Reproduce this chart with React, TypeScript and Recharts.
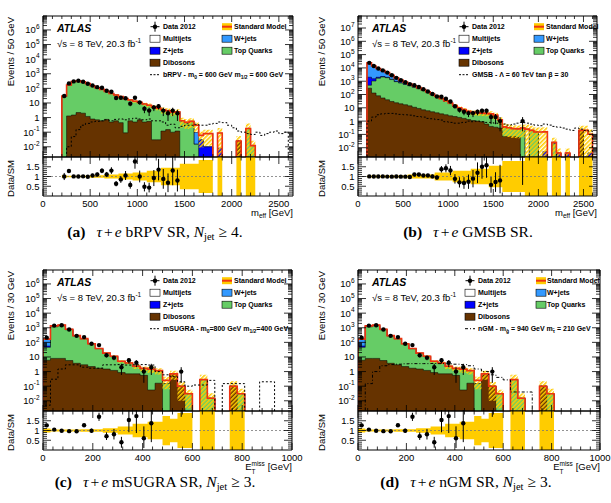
import React from 'react';
import { ComposedChart, Area, Line, Scatter, ErrorBar, XAxis, YAxis, ReferenceLine } from 'recharts';

const SANS = "'Liberation Sans', Arial, Helvetica, sans-serif";
const SERIF = "'Liberation Serif', 'Times New Roman', serif";

const FLOOR = 1e-6;
const Y_MIN = 2e-3;
const LW = 43;

const DIBOSON_C = '#663300';
const TOP_C = '#66cc66';
const ZJETS_C = '#0000ff';
const WJETS_C = '#3399ff';
const MULTIJET_C = '#ffffff';
const SM_C = '#ee3311';
const BAND_C = '#ffcc00';

// (a) tau+e bRPV SR, m_eff, 50 GeV bins from 200 GeV
const A_START = 200;
const A_WIDTH = 50;
const A_DIBOSON = [0, 1.3, 1.5, 2.2, 2.0, 1.2, 0.8, 0.7, 0.6, 0.75, 0.5, 0.6, 0.45, 0.09, 0.6, 0.5, 0.7, 0.5, 0.55, 0.03, 0.03, 0.12, 0.15, 0.1, 0.12, 0, 0, 0, 0, 0, 0, 0, 0, 0, 0, 0, 0, 0.025, 0, 0, 0, 0, 0, 0, 0, 0, 0, 0, 0];
const A_TOP = [27, 163, 290, 320, 273, 205, 146, 107, 83, 60, 43, 33.5, 26, 19.4, 15, 12.2, 10, 7.8, 6.2, 5.4, 4.4, 3.3, 2.8, 2.2, 2.4, 0.58, 0.4, 0.55, 0.015, 0, 0, 0, 0, 0, 0, 0, 0, 0, 0, 0.18, 0.012, 0, 0, 0, 0, 0, 0, 0, 0];
const A_ZJETS = [0, 1, 1, 1, 0, 0, 0, 0, 0, 0, 0, 0, 0, 0, 0, 0, 0, 0, 0, 0, 0, 0, 0, 0, 0, 0, 0, 0, 0, 0.03, 0.01, 0.01, 0, 0.008, 0, 0, 0, 0, 0, 0, 0, 0, 0, 0, 0, 0, 0, 0, 0];
const A_WJETS = [3, 5, 6, 6, 5, 4, 3, 2, 1.5, 1, 1, 0.8, 0.6, 0.5, 0.4, 0.3, 0.3, 0.2, 0.2, 0, 0, 0, 0, 0, 0, 0.02, 0.08, 0, 0.08, 0, 0, 0, 0, 0, 0, 0, 0, 0, 0, 0, 0, 0, 0, 0, 0, 0, 0, 0, 0];
const A_MULTIJET = [0, 0, 0, 0, 0, 0, 0, 0, 0, 0, 0, 0, 0, 0, 0, 0, 0, 0, 0, 0, 0, 0, 0, 0, 0, 0, 0, 0, 0.2, 0.03, 0.07, 0.07, 0, 0.08, 0, 0, 0, 0, 0, 0, 0, 0, 0, 0, 0, 0, 0, 0, 0];
const A_DATA = [30, 218, 300, 330, 282, 208, 158, 121, 110, 68, 58, 22, 23, 21, 9, 23, 11, 4, 3, 5, 6, 3, 2, 3, 2, 0, 0, 0, 0, 0, 0, 0, 0, 0, 0, 0, 0, 0, 0, 0, 0, 0, 0, 0, 0, 0, 0, 0, 0];
const A_SIGNAL = [0, 0.01, 0.05, 0.15, 0.3, 0.4, 0.5, 0.55, 0.6, 0.7, 0.6, 0.75, 0.8, 0.7, 0.8, 0.9, 0.8, 0.7, 0.8, 0.6, 0.6, 0.5, 0.3, 0.35, 0.2, 0.25, 0.3, 0.3, 0.35, 0.3, 0.3, 0.35, 0.4, 0.5, 0.45, 0.3, 0.2, 0.12, 0.1, 0.08, 0.07, 0.1, 0.06, 0.08, 0.1, 0.12, 0.08, 0.1, 0];
const A_SYST = [0.08, 0.04, 0.04, 0.04, 0.04, 0.04, 0.06, 0.06, 0.06, 0.1, 0.1, 0.1, 0.15, 0.15, 0.15, 0.2, 0.2, 0.2, 0.3, 0.3, 0.3, 0.45, 0.45, 0.45, 0.45, 0.65, 0.65, 0.65, 0.65, 0.85, 0.85, 0.85, 0.85, 1.2, 1.2, 1.2, 1.2, 1.2, 1.2, 1.2, 1.2, 1.2, 1.2, 1.2, 1.2, 1.2, 1.2, 1.2, 1.2];

// (b) tau+e GMSB SR, m_eff, 50 GeV bins from 100 GeV
const B_START = 100;
const B_WIDTH = 50;
const B_DIBOSON = [300, 130, 80, 55, 40, 30, 24, 20, 17, 14, 11, 9, 7, 6, 5, 4.2, 3.5, 3, 2.5, 2.2, 1.9, 1.6, 1.3, 1.1, 1.0, 0.9, 0.6, 0.4, 0.35, 0.3, 0.07, 0.07, 0.07, 0.06, 0, 0, 0, 0, 0, 0, 0, 0, 0, 0, 0, 0, 0, 0.2, 0, 0, 0];
const B_TOP = [200, 900, 1600, 2000, 1800, 1300, 900, 700, 560, 440, 340, 260, 190, 130, 90, 61, 40, 27, 18, 11, 7, 5.2, 3.6, 3.0, 2.8, 2.7, 2.8, 2.85, 2.2, 0.7, 0.25, 0.25, 0.2, 0.2, 0.3, 0, 0.2, 0.15, 0, 0, 0, 0.02, 0, 0, 0, 0, 0, 0, 0, 0, 0];
const B_ZJETS = [1500, 500, 300, 200, 130, 90, 60, 40, 25, 18, 12, 8, 5, 3.5, 2.5, 1.7, 1.1, 0.8, 0.5, 0.4, 0.3, 0.2, 0.15, 0.1, 0.1, 0.1, 0.1, 0.05, 0.05, 0.05, 0, 0, 0, 0, 0, 0, 0, 0, 0, 0.005, 0, 0.005, 0.004, 0, 0.004, 0, 0, 0, 0, 0.004, 0];
const B_WJETS = [22000, 12500, 7000, 4200, 2500, 1400, 800, 450, 250, 150, 90, 55, 35, 20, 12, 8, 5, 3, 2, 1.2, 0.8, 0.5, 0.4, 0.3, 0.3, 0.3, 0.3, 0.2, 0.2, 0.2, 0.05, 0, 0, 0, 0, 0, 0, 0, 0, 0, 0, 0, 0, 0, 0, 0, 0, 0, 0, 0, 0];
const B_MULTIJET = [0, 0, 0, 0, 0, 0, 0, 0, 0, 0, 0, 0, 0, 0, 0, 0, 0, 0, 0, 0, 0, 0, 0, 0, 0, 0, 0, 0, 0, 0, 0, 0, 0, 0, 0, 0.25, 0, 0, 0.15, 0.15, 0, 0, 0, 0, 0, 0, 0, 0, 0.2, 0.1, 0];
const B_DATA = [24100, 14000, 8950, 6480, 4450, 2800, 1790, 1200, 845, 605, 498, 365, 249, 168, 110, 71, 68, 48, 30, 13, 7, 5, 4, 4, 5, 6, 6, 2, 2, 1, 0, 0, 0, 0, 1, 0, 0, 0, 0, 0, 0, 0, 0, 0, 0, 0, 0, 0, 0, 0, 0];
const B_SIGNAL = [1.0, 2.0, 3.0, 3.5, 3.8, 3.8, 3.5, 3.2, 3.0, 2.8, 2.5, 2.2, 2.0, 1.6, 1.5, 1.3, 1.2, 0.9, 0.8, 0.7, 0.7, 0.8, 1.0, 0.9, 1.0, 0.9, 0.8, 0.8, 0.7, 0.6, 0.6, 0.5, 0.6, 0.7, 0.8, 0.7, 0.6, 0.5, 0.45, 0.6, 0.5, 0.4, 0.35, 0.3, 0.25, 0.2, 0.3, 0.25, 0.2, 0.18, 0];
const B_SYST = [0.05, 0.05, 0.05, 0.05, 0.05, 0.05, 0.05, 0.05, 0.05, 0.1, 0.1, 0.1, 0.1, 0.1, 0.1, 0.2, 0.2, 0.2, 0.2, 0.3, 0.3, 0.3, 0.3, 0.4, 0.4, 0.4, 0.4, 0.55, 0.55, 0.55, 0.8, 0.8, 0.8, 0.8, 0.8, 1.2, 1.2, 1.2, 1.2, 1.2, 1.2, 1.2, 1.2, 1.2, 1.2, 1.2, 1.2, 1.2, 1.2, 1.2, 1.2];

// (c)/(d) tau+e SR with Njet >= 3, E_T^miss, 30 GeV bins from 0
const C_START = 0;
const C_WIDTH = 30;
const C_DIBOSON = [6, 8, 8, 5.7, 3.7, 2.9, 2.2, 1.7, 1.5, 1.2, 0.85, 0.7, 0.7, 0.55, 0.055, 0.16, 0, 0.6, 0.1, 0, 0, 0, 0, 0, 0, 0.1, 0, 0, 0, 0, 0, 0, 0, 0];
const C_TOP = [40, 1150, 1350, 720, 270, 170, 75, 35, 16, 9.5, 4.0, 3.0, 1.6, 1.0, 1.4, 1.0, 0.15, 0.1, 0, 0.03, 0, 0.28, 0.015, 0, 0, 0, 0.03, 0, 0, 0, 0, 0, 0, 0];
const C_ZJETS = [10, 60, 50, 20, 5, 2, 1, 0, 0, 0, 0, 0, 0, 0, 0, 0, 0, 0, 0, 0, 0, 0, 0, 0, 0, 0, 0, 0, 0, 0, 0, 0, 0, 0];
const C_WJETS = [110, 120, 110, 40, 12, 6, 3, 1.5, 0.8, 0.4, 0.2, 0.2, 0, 0.1, 0, 0, 0, 0, 0, 0, 0, 0, 0, 0, 0, 0, 0, 0, 0, 0, 0, 0, 0, 0];
const C_MULTIJET = [0, 0, 0, 0, 0, 0, 0, 0, 0, 0, 0, 0, 0, 0, 0, 0, 0.1, 0, 0, 0, 0, 0, 0, 0, 0, 0, 0, 0, 0, 0, 0, 0, 0, 0];
const C_DATA = [210, 1400, 1500, 760, 280, 230, 80, 65, 13, 9, 2, 6, 4, 1, 2, 0, 0, 0, 1, 0, 0, 0, 0, 0, 0, 0, 0, 0, 0, 0, 0, 0, 0, 0];
const C_SYST = [0.1, 0.05, 0.05, 0.05, 0.05, 0.07, 0.07, 0.07, 0.12, 0.12, 0.2, 0.2, 0.35, 0.35, 0.45, 0.45, 0.75, 0.6, 0.9, 0.9, 1.2, 1.2, 1.2, 1.2, 1.2, 1.2, 1.2, 1.2, 1.2, 1.2, 1.2, 1.2, 1.2, 1.2];
const C_SIGNAL = [0.005, 0.3, 1.5, 2.9, 2.9, 2.0, 1.7, 1.7, 2.9, 2.9, 3.0, 2.8, 2.9, 3.0, 2.8, 1.0, 0.6, 0.45, 0.2, 0.1, 0.12, 0.12, 0.25, 0, 0.15, 0.15, 0.15, 0, 0, 0.2, 0.2, 0, 0, 0];
const D_SIGNAL = [0, 0.15, 1.0, 2.5, 3.0, 3.2, 3.4, 3.5, 3.5, 3.5, 3.6, 3.5, 3.4, 3.2, 3.0, 2.5, 1.5, 1.0, 0.6, 0.4, 0.27, 0.04, 0.04, 0.04, 0, 0, 0, 0, 0, 0, 0, 0, 0, 0];

type Sample = {
  start: number;
  width: number;
  diboson: number[];
  top: number[];
  zjets: number[];
  wjets: number[];
  multijet: number[];
  data: number[];
  signal: number[];
  syst: number[];
};

const SAMPLE_A: Sample = { start: A_START, width: A_WIDTH, diboson: A_DIBOSON, top: A_TOP, zjets: A_ZJETS, wjets: A_WJETS, multijet: A_MULTIJET, data: A_DATA, signal: A_SIGNAL, syst: A_SYST };
const SAMPLE_B: Sample = { start: B_START, width: B_WIDTH, diboson: B_DIBOSON, top: B_TOP, zjets: B_ZJETS, wjets: B_WJETS, multijet: B_MULTIJET, data: B_DATA, signal: B_SIGNAL, syst: B_SYST };
const SAMPLE_C: Sample = { start: C_START, width: C_WIDTH, diboson: C_DIBOSON, top: C_TOP, zjets: C_ZJETS, wjets: C_WJETS, multijet: C_MULTIJET, data: C_DATA, signal: C_SIGNAL, syst: C_SYST };
const SAMPLE_D: Sample = { ...SAMPLE_C, signal: D_SIGNAL };

const pos = (v: number) => (v > 0 ? v : FLOOR);
const binTotal = (s: Sample, i: number) => s.diboson[i] + s.top[i] + s.zjets[i] + s.wjets[i] + s.multijet[i];

// cumulative stack, one row per bin edge, closed at both ends so the outline drops to the floor
function stackRows(s: Sample) {
  const n = s.diboson.length;
  const end = s.start + n * s.width;
  const empty = { dib: FLOOR, top: FLOOR, zj: FLOOR, wj: FLOOR, mj: FLOOR, total: FLOOR, sig: FLOOR, band: [FLOOR, FLOOR] };
  const rows: any[] = [{ x: s.start, ...empty }];
  for (let i = 0; i <= n; i++) {
    const j = Math.min(i, n - 1);
    const c1 = s.diboson[j];
    const c2 = c1 + s.top[j];
    const c3 = c2 + s.zjets[j];
    const c4 = c3 + s.wjets[j];
    const c5 = c4 + s.multijet[j];
    const d = s.syst[j];
    rows.push({
      x: s.start + i * s.width,
      dib: pos(c1),
      top: pos(c2),
      zj: pos(c3),
      wj: pos(c4),
      mj: pos(c5),
      total: pos(c5),
      sig: pos(s.signal[j]),
      band: c5 > 0 ? [pos(c5 * (1 - d)), c5 * (1 + d)] : [FLOOR, FLOOR],
    });
  }
  rows.push({ x: end, ...empty });
  return rows;
}

function dataPoints(s: Sample, ratio: boolean) {
  const out: any[] = [];
  s.data.forEach((n, i) => {
    const t = binTotal(s, i);
    if (n <= 0 || (ratio && t <= 0)) return;
    const up = Math.sqrt(n);
    const down = Math.min(Math.sqrt(n), 0.83 * n);
    const k = ratio ? t : 1;
    out.push({ x: s.start + (i + 0.5) * s.width, y: n / k, err: [down / k, up / k] });
  });
  return out;
}

function ratioRows(s: Sample) {
  const n = s.diboson.length;
  const rows: any[] = [];
  for (let i = 0; i <= n; i++) {
    const j = Math.min(i, n - 1);
    const d = s.syst[j];
    rows.push({ x: s.start + i * s.width, rb: binTotal(s, j) > 0 ? [1 - d, 1 + d] : [1, 1], one: 1 });
  }
  return rows;
}

function logTicks(min: number, max: number) {
  const out: number[] = [];
  for (let e = Math.floor(Math.log10(min)); e <= Math.ceil(Math.log10(max)); e++) {
    for (let m = 1; m < 10; m++) {
      const v = Number((m * Math.pow(10, e)).toPrecision(3));
      if (v >= min * 0.999 && v <= max * 1.001) out.push(v);
    }
  }
  return out;
}

function linTicks(from: number, to: number, step: number) {
  const out: number[] = [];
  for (let v = from; v <= to + 1e-9; v += step) out.push(Math.round(v * 1000) / 1000);
  return out;
}

const RATIO_TICKS = linTicks(0.1, 1.9, 0.1);

function powLabel(x: number, y: number, e: number) {
  const common = { x, y, textAnchor: 'end' as const, fontSize: 9.5, fontFamily: SANS, fill: '#000' };
  if (e === 0) return <text {...common}>1</text>;
  if (e === 1) return <text {...common}>10</text>;
  return (
    <text {...common}>
      10<tspan dy={-4.2} fontSize={6.5}>{e}</tspan>
    </text>
  );
}

const logTick = (side: 'left' | 'right') => (props: any) => {
  const { x, y, payload } = props;
  const e = Math.log10(payload.value);
  const major = Math.abs(e - Math.round(e)) < 1e-6;
  const len = major ? 8 : 4;
  const dir = side === 'left' ? 1 : -1;
  return (
    <g>
      <line x1={x} x2={x + dir * len} y1={y} y2={y} stroke="#000" strokeWidth={0.8} />
      {side === 'left' && major && powLabel(x - 3.5, y + 3.4, Math.round(e))}
    </g>
  );
};

const ratioTick = (side: 'left' | 'right') => (props: any) => {
  const { x, y, payload } = props;
  const v = payload.value;
  const major = Math.abs(v * 2 - Math.round(v * 2)) < 1e-6;
  const dir = side === 'left' ? 1 : -1;
  return (
    <g>
      <line x1={x} x2={x + dir * (major ? 8 : 4)} y1={y} y2={y} stroke="#000" strokeWidth={0.8} />
      {side === 'left' && major && (
        <text x={x - 3.5} y={y + 3.4} textAnchor="end" fontSize={9.5} fontFamily={SANS} fill="#000">
          {v}
        </text>
      )}
    </g>
  );
};

const xTick = (major: number, labels: boolean, side: 'bottom' | 'top', len: number) => (props: any) => {
  const { x, y, payload } = props;
  const v = payload.value;
  const isMajor = Math.abs(v / major - Math.round(v / major)) < 1e-6;
  const dir = side === 'bottom' ? -1 : 1;
  return (
    <g>
      <line x1={x} x2={x} y1={y} y2={y + dir * (isMajor ? len : len / 2)} stroke="#000" strokeWidth={0.8} />
      {labels && isMajor && (
        <text x={x} y={y + 10.5} textAnchor="middle" fontSize={9.5} fontFamily={SANS} fill="#000">
          {v}
        </text>
      )}
    </g>
  );
};

const dot = (props: any) => <circle cx={props.cx} cy={props.cy} r={2.2} fill="#000" />;

type PanelCfg = {
  id: string;
  sample: Sample;
  left: number;
  right: number;
  top: number;
  mainBottom: number;
  ratioBottom: number;
  xMax: number;
  xMajor: number;
  xMinor: number;
  yMax: number;
};

function Panel({ p }: { p: PanelCfg }) {
  const s = p.sample;
  const plotW = p.right - p.left;
  const mainH = p.mainBottom - p.top;
  const ratioH = p.ratioBottom - p.mainBottom;
  const rows = stackRows(s);
  const pts = dataPoints(s, false);
  const rrows = ratioRows(s);
  const rpts = dataPoints(s, true);
  const yTicks = logTicks(Y_MIN, p.yMax);
  const xTicks = linTicks(0, p.xMax, p.xMinor);
  const hatch = `hatch-${p.id}`;
  const flat = { isAnimationActive: false, dot: false as const, activeDot: false as const };
  const frame = { stroke: '#000', strokeWidth: 1 };

  return (
    <>
      <div style={{ position: 'absolute', left: p.left - LW, top: p.top - 1 }}>
        <ComposedChart width={LW + plotW + 1} height={mainH + 2} data={rows} margin={{ top: 0, right: 0, bottom: 0, left: 0 }}>
          <defs>
            <pattern id={hatch} width={3} height={3} patternUnits="userSpaceOnUse" patternTransform="rotate(45)">
              <rect x={0} y={0} width={1.6} height={3} fill={BAND_C} />
            </pattern>
          </defs>
          <XAxis dataKey="x" type="number" domain={[0, p.xMax]} allowDataOverflow ticks={xTicks} interval={0} tickSize={0} tickMargin={0} height={1} tickLine={false} axisLine={frame} tick={xTick(p.xMajor, false, 'bottom', 6)} />
          <XAxis xAxisId="t" orientation="top" dataKey="x" type="number" domain={[0, p.xMax]} allowDataOverflow ticks={xTicks} interval={0} tickSize={0} tickMargin={0} height={1} tickLine={false} axisLine={frame} tick={xTick(p.xMajor, false, 'top', 6)} />
          <YAxis type="number" scale="log" domain={[Y_MIN, p.yMax]} allowDataOverflow ticks={yTicks} interval={0} tickSize={0} tickMargin={0} width={LW} tickLine={false} axisLine={frame} tick={logTick('left')} />
          <YAxis yAxisId="r" orientation="right" type="number" scale="log" domain={[Y_MIN, p.yMax]} allowDataOverflow ticks={yTicks} interval={0} tickSize={0} tickMargin={0} width={1} tickLine={false} axisLine={frame} tick={logTick('right')} />
          <Area type="stepAfter" dataKey="mj" baseValue={FLOOR} fill={MULTIJET_C} fillOpacity={1} stroke="#000" strokeWidth={0.5} {...flat} />
          <Area type="stepAfter" dataKey="wj" baseValue={FLOOR} fill={WJETS_C} fillOpacity={1} stroke="#000" strokeWidth={0.5} {...flat} />
          <Area type="stepAfter" dataKey="zj" baseValue={FLOOR} fill={ZJETS_C} fillOpacity={1} stroke="#000" strokeWidth={0.5} {...flat} />
          <Area type="stepAfter" dataKey="top" baseValue={FLOOR} fill={TOP_C} fillOpacity={1} stroke="#000" strokeWidth={0.5} {...flat} />
          <Area type="stepAfter" dataKey="dib" baseValue={FLOOR} fill={DIBOSON_C} fillOpacity={1} stroke="#000" strokeWidth={0.5} {...flat} />
          <Area type="stepAfter" dataKey="band" fill={`url(#${hatch})`} fillOpacity={1} stroke="none" {...flat} />
          <Line type="stepAfter" dataKey="total" stroke={SM_C} strokeWidth={1.6} {...flat} />
          <Line type="stepAfter" dataKey="sig" stroke="#000" strokeWidth={1} strokeDasharray={p.id === 'd' ? '3 2 1 2' : '2 2'} {...flat} />
          <Line xAxisId="t" yAxisId="r" dataKey="total" stroke="none" {...flat} />
          <Scatter data={pts} dataKey="y" shape={dot} isAnimationActive={false}>
            <ErrorBar dataKey="err" direction="y" width={0} stroke="#000" strokeWidth={1} />
          </Scatter>
        </ComposedChart>
      </div>
      <div style={{ position: 'absolute', left: p.left - LW, top: p.mainBottom - 1 }}>
        <ComposedChart width={LW + plotW + 1 + 14} height={ratioH + 15} data={rrows} margin={{ top: 0, right: 14, bottom: 0, left: 0 }}>
          <XAxis dataKey="x" type="number" domain={[0, p.xMax]} allowDataOverflow ticks={xTicks} interval={0} tickSize={0} tickMargin={0} height={14} tickLine={false} axisLine={frame} tick={xTick(p.xMajor, true, 'bottom', 7)} />
          <XAxis xAxisId="t" orientation="top" dataKey="x" type="number" domain={[0, p.xMax]} allowDataOverflow ticks={xTicks} interval={0} tickSize={0} tickMargin={0} height={1} tickLine={false} axisLine={frame} tick={xTick(p.xMajor, false, 'top', 7)} />
          <YAxis type="number" domain={[0, 2]} allowDataOverflow ticks={RATIO_TICKS} interval={0} tickSize={0} tickMargin={0} width={LW} tickLine={false} axisLine={frame} tick={ratioTick('left')} />
          <YAxis yAxisId="r" orientation="right" type="number" domain={[0, 2]} allowDataOverflow ticks={RATIO_TICKS} interval={0} tickSize={0} tickMargin={0} width={1} tickLine={false} axisLine={frame} tick={ratioTick('right')} />
          <Area type="stepAfter" dataKey="rb" fill={BAND_C} fillOpacity={1} stroke="none" {...flat} />
          <ReferenceLine y={1} stroke="#777" strokeWidth={0.8} strokeDasharray="2 2" />
          <Line xAxisId="t" yAxisId="r" dataKey="one" stroke="none" {...flat} />
          <Scatter data={rpts} dataKey="y" shape={dot} isAnimationActive={false}>
            <ErrorBar dataKey="err" direction="y" width={0} stroke="#000" strokeWidth={1} />
          </Scatter>
        </ComposedChart>
      </div>
    </>
  );
}

type Notes = {
  p: PanelCfg;
  legendX: number[];
  binLabel: string;
  titleOffset: number;
  xTitle: React.ReactNode;
  signalText: React.ReactNode;
  caption: React.ReactNode;
  captionX: number;
  captionY: number;
};

function Annotations({ n }: { n: Notes }) {
  const { p } = n;
  const L = p.left;
  const T = p.top;
  const mx = L + n.legendX[0];
  const tx = L + n.legendX[1];
  const bx = L + n.legendX[2];
  const t2 = L + n.legendX[3];
  const ry = (k: number) => T + 10.7 + 12 * k;
  const label = (x: number, k: number, s: React.ReactNode) => (
    <text x={x} y={ry(k) + 2.5} fontSize={7} fontWeight="bold">
      {s}
    </text>
  );
  const box = (x: number, k: number, fill: string) => (
    <rect x={x} y={ry(k) - 3.5} width={10} height={7} fill={fill} stroke="#000" strokeWidth={0.6} />
  );
  const titleX = L - n.titleOffset;
  return (
    <g fontFamily={SANS} fill="#000">
      <text x={L + 14} y={T + 15.8} fontSize={10.5} fontWeight="bold" fontStyle="italic">
        ATLAS
      </text>
      <text x={L + 14} y={T + 30.8} fontSize={9.5}>
        √s = 8 TeV, 20.3 fb<tspan dy={-4} fontSize={6.5}>-1</tspan>
      </text>

      <line x1={mx - 4.5} x2={mx + 4.5} y1={ry(0)} y2={ry(0)} stroke="#000" strokeWidth={1} />
      <line x1={mx} x2={mx} y1={ry(0) - 5} y2={ry(0) + 5} stroke="#000" strokeWidth={1} />
      <circle cx={mx} cy={ry(0)} r={2.2} fill="#000" />
      {label(tx, 0, 'Data 2012')}
      {box(mx - 5, 1, MULTIJET_C)}
      {label(tx, 1, 'Multijets')}
      {box(mx - 5, 2, ZJETS_C)}
      {label(tx, 2, 'Z+jets')}
      {box(mx - 5, 3, DIBOSON_C)}
      {label(tx, 3, 'Dibosons')}
      <line x1={mx - 5} x2={mx + 5} y1={ry(4)} y2={ry(4)} stroke="#000" strokeWidth={1} strokeDasharray={p.id === 'd' ? '3 2 1 2' : '2 1.5'} />
      {label(tx, 4, n.signalText)}

      <rect x={bx} y={ry(0) - 3.5} width={10} height={7} fill={BAND_C} />
      <line x1={bx} x2={bx + 10} y1={ry(0)} y2={ry(0)} stroke={SM_C} strokeWidth={2} />
      {label(t2, 0, 'Standard Model')}
      {box(bx, 1, WJETS_C)}
      {label(t2, 1, 'W+jets')}
      {box(bx, 2, TOP_C)}
      {label(t2, 2, 'Top Quarks')}

      <text transform={`translate(${titleX},${T + 1}) rotate(-90)`} textAnchor="end" fontSize={9.5}>
        {n.binLabel}
      </text>
      <text transform={`translate(${titleX},${(p.mainBottom + p.ratioBottom) / 2 + 2}) rotate(-90)`} textAnchor="middle" fontSize={9.5}>
        Data/SM
      </text>
      <text x={p.right} y={p.ratioBottom + 20} textAnchor="end" fontSize={9.5}>
        {n.xTitle}
      </text>
      <text x={n.captionX} y={n.captionY} textAnchor="middle" fontFamily={SERIF} fontSize={15.5}>
        {n.caption}
      </text>
    </g>
  );
}

const sub = (s: string) => [
  <tspan key="s" dy={1.8} fontSize={5}>
    {s}
  </tspan>,
];

const MEFF = (
  <>
    m<tspan dy={2.2} fontSize={6.5}>eff</tspan>
    <tspan dy={-2.2}> [GeV]</tspan>
  </>
);
const MET = (
  <>
    E<tspan dy={-4} fontSize={6.5}>miss</tspan>
    <tspan dx={-13.4} dy={7.5} fontSize={6.5}>T</tspan>
    <tspan dx={9.6} dy={-3.5}> [GeV]</tspan>
  </>
);

const caption = (tag: string, model: string, njet: string | null) => (
  <>
    <tspan fontWeight="bold">{tag}</tspan>
    <tspan dx={11} fontStyle="italic">τ</tspan>
    <tspan dx={2}>+</tspan>
    <tspan dx={2} fontStyle="italic">e</tspan>
    <tspan>{` ${model} SR${njet ? ',' : '.'} `}</tspan>
    {njet && (
      <>
        <tspan fontStyle="italic">N</tspan>
        <tspan dy={3} fontSize={10.5}>jet</tspan>
        <tspan dy={-3} dx={4}>≥</tspan>
        <tspan dx={4}>{`${njet}.`}</tspan>
      </>
    )}
  </>
);

const PANEL_A: PanelCfg = { id: 'a', sample: SAMPLE_A, left: 43, right: 293, top: 16, mainBottom: 157, ratioBottom: 196, xMax: 2650, xMajor: 500, xMinor: 100, yMax: 9e6 };
const PANEL_B: PanelCfg = { id: 'b', sample: SAMPLE_B, left: 358, right: 597, top: 16, mainBottom: 157, ratioBottom: 196, xMax: 2650, xMajor: 500, xMinor: 100, yMax: 8e7 };
const PANEL_C: PanelCfg = { id: 'c', sample: SAMPLE_C, left: 43, right: 292, top: 270, mainBottom: 411, ratioBottom: 450, xMax: 1000, xMajor: 200, xMinor: 40, yMax: 9e6 };
const PANEL_D: PanelCfg = { id: 'd', sample: SAMPLE_D, left: 358, right: 600, top: 270, mainBottom: 411, ratioBottom: 450, xMax: 1000, xMajor: 200, xMinor: 40, yMax: 9e6 };

const NOTES: Notes[] = [
  {
    p: PANEL_A,
    legendX: [112, 120, 179, 191],
    binLabel: 'Events / 50 GeV',
    titleOffset: 29.5,
    xTitle: MEFF,
    signalText: (
      <>
        bRPV - m{sub('0')}
        <tspan dy={-1.8}> = 600 GeV m</tspan>
        {sub('1/2')}
        <tspan dy={-1.8}> = 600 GeV</tspan>
      </>
    ),
    caption: caption('(a)', 'bRPV', '4'),
    captionX: 155,
    captionY: 237,
  },
  {
    p: PANEL_B,
    legendX: [106, 114, 176, 188],
    binLabel: 'Events / 50 GeV',
    titleOffset: 33.5,
    xTitle: MEFF,
    signalText: 'GMSB - Λ = 60 TeV tan β = 30',
    caption: caption('(b)', 'GMSB', null),
    captionX: 468,
    captionY: 237,
  },
  {
    p: PANEL_C,
    legendX: [112, 120, 179, 191],
    binLabel: 'Events / 30 GeV',
    titleOffset: 29.5,
    xTitle: MET,
    signalText: (
      <>
        mSUGRA - m{sub('0')}
        <tspan dy={-1.8}>=800 GeV m</tspan>
        {sub('1/2')}
        <tspan dy={-1.8}>=400 GeV</tspan>
      </>
    ),
    caption: caption('(c)', 'mSUGRA', '3'),
    captionX: 155,
    captionY: 487,
  },
  {
    p: PANEL_D,
    legendX: [112, 120, 178, 189],
    binLabel: 'Events / 30 GeV',
    titleOffset: 33.5,
    xTitle: MET,
    signalText: (
      <>
        nGM - m{sub('g̃')}
        <tspan dy={-1.8}> = 940 GeV m</tspan>
        {sub('τ̃')}
        <tspan dy={-1.8}> = 210 GeV</tspan>
      </>
    ),
    caption: caption('(d)', 'nGM', '3'),
    captionX: 466,
    captionY: 487,
  },
];

export default function App() {
  return (
    <div style={{ position: 'absolute', left: 0, top: 0, width: 611, height: 503, overflow: 'hidden', background: '#fff' }}>
      {NOTES.map((n) => (
        <Panel key={n.p.id} p={n.p} />
      ))}
      <svg width={611} height={503} style={{ position: 'absolute', left: 0, top: 0, pointerEvents: 'none' }}>
        {NOTES.map((n) => (
          <Annotations key={n.p.id} n={n} />
        ))}
      </svg>
    </div>
  );
}
